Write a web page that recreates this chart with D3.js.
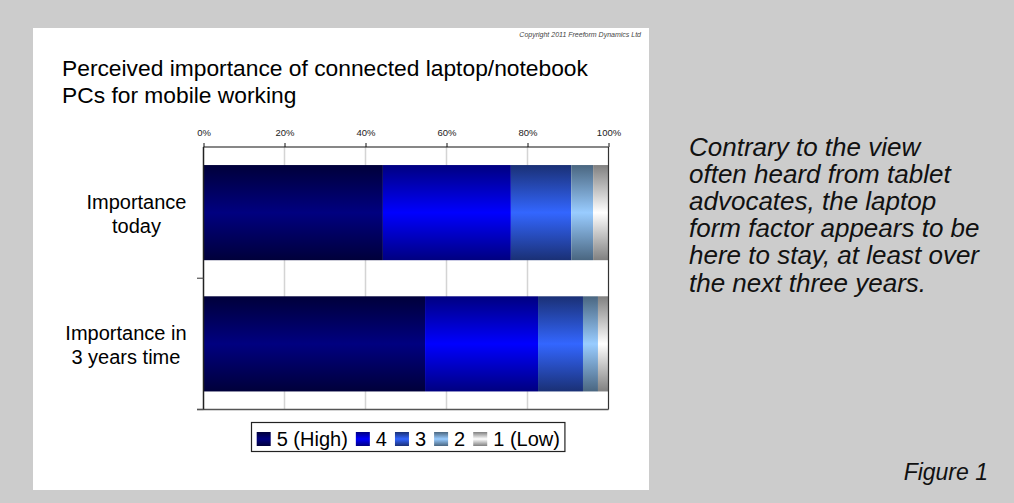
<!DOCTYPE html>
<html>
<head>
<meta charset="utf-8">
<script src="https://cdn.jsdelivr.net/npm/d3@7"></script>
<style>
  html, body { margin: 0; padding: 0; background: #cccccc; }
  svg { display: block; font-family: "Liberation Sans", Arial, sans-serif; }
</style>
</head>
<body>
<svg id="chart" width="1014" height="503"></svg>
<script>
// Survey categories, one row each
const categories = ["Importance today", "Importance in 3 years time"];
const categoryLines = [["Importance", "today"], ["Importance in", "3 years time"]];

// Rating levels, highest first (stack order left to right)
const ratings = ["5 (High)", "4", "3", "2", "1 (Low)"];

// Share of respondents (%) per rating, for each category
const rating5 = [44.3, 54.7];
const rating4 = [31.6, 27.9];
const rating3 = [14.9, 11.1];
const rating2 = [5.4, 3.7];
const rating1 = [3.8, 2.6];

const xTicks = [0, 20, 40, 60, 80, 100];

const commentary = [
  "Contrary to the view",
  "often heard from tablet",
  "advocates, the laptop",
  "form factor appears to be",
  "here to stay, at least over",
  "the next three years."
];

// Vertical shading per rating: [edge colour, centre colour]
const shades = [
  ["#00003a", "#000080"],
  ["#000080", "#0000ff"],
  ["#1a3075", "#3366ff"],
  ["#4a6680", "#99ccff"],
  ["#808080", "#ffffff"]
];

const seriesValues = [rating5, rating4, rating3, rating2, rating1];
const rows = categories.map((c, i) => {
  const r = { category: c };
  ratings.forEach((k, j) => { r[k] = seriesValues[j][i]; });
  return r;
});

const svg = d3.select("#chart");

// Gradients
const defs = svg.append("defs");
shades.forEach((s, i) => {
  const g = defs.append("linearGradient")
    .attr("id", "shade" + i)
    .attr("x1", 0).attr("y1", 0).attr("x2", 0).attr("y2", 1);
  g.append("stop").attr("offset", "0%").attr("stop-color", s[0]);
  g.append("stop").attr("offset", "50%").attr("stop-color", s[1]);
  g.append("stop").attr("offset", "100%").attr("stop-color", s[0]);
});

// White card holding the chart
svg.append("rect")
  .attr("x", 33).attr("y", 28)
  .attr("width", 616).attr("height", 462)
  .attr("fill", "#ffffff");

svg.append("text")
  .attr("x", 641).attr("y", 37)
  .attr("text-anchor", "end")
  .attr("font-size", 7)
  .attr("font-style", "italic")
  .attr("fill", "#444")
  .text("Copyright 2011 Freeform Dynamics Ltd");

const title = svg.append("text")
  .attr("x", 62).attr("y", 76)
  .attr("font-size", 22.8)
  .attr("fill", "#000");
title.append("tspan").attr("x", 62).attr("dy", 0).text("Perceived importance of connected laptop/notebook");
title.append("tspan").attr("x", 62).attr("dy", 27).text("PCs for mobile working");

// Plot area
const plot = { left: 203.5, right: 608.5, top: 147, bottom: 409.5 };

const x = d3.scaleLinear().domain([0, 100]).range([plot.left, plot.right]);
const y = d3.scaleBand()
  .domain(categories)
  .range([plot.top, plot.bottom])
  .paddingInner(0.275)
  .paddingOuter(0.1375);

// Gridlines
svg.append("g")
  .selectAll("line")
  .data(xTicks.filter(t => t > 0 && t < 100))
  .join("line")
  .attr("x1", d => x(d)).attr("x2", d => x(d))
  .attr("y1", plot.top).attr("y2", plot.bottom)
  .attr("stroke", "#d4d4d4")
  .attr("stroke-width", 1.5);

// Stacked bars
const stacked = d3.stack().keys(ratings)(rows);
svg.append("g")
  .selectAll("g")
  .data(stacked)
  .join("g")
  .attr("fill", (d, i) => `url(#shade${i})`)
  .selectAll("rect")
  .data(d => d)
  .join("rect")
  .attr("x", d => x(d[0]))
  .attr("width", d => x(d[1]) - x(d[0]))
  .attr("y", d => y(d.data.category))
  .attr("height", y.bandwidth());

// Right and bottom frame
svg.append("line")
  .attr("x1", plot.right).attr("x2", plot.right)
  .attr("y1", plot.top).attr("y2", plot.bottom)
  .attr("stroke", "#333").attr("stroke-width", 1.2);
svg.append("line")
  .attr("x1", plot.left - 6.5).attr("x2", plot.right)
  .attr("y1", plot.bottom).attr("y2", plot.bottom)
  .attr("stroke", "#555").attr("stroke-width", 1.5);

// Top percentage axis
const xAxis = d3.axisTop(x)
  .tickValues(xTicks)
  .tickFormat(d => d + "%")
  .tickSize(4)
  .tickPadding(7);
const gx = svg.append("g")
  .attr("transform", `translate(0,${plot.top})`)
  .call(xAxis);
gx.select(".domain").attr("stroke", "#111").attr("stroke-width", 1.2).attr("d", `M${plot.left},0H${plot.right}`);
gx.selectAll(".tick line").attr("stroke", "#111");
gx.selectAll(".tick text")
  .attr("font-size", 9.5)
  .attr("font-family", "Liberation Sans, Arial, sans-serif")
  .attr("fill", "#222");

// Left category axis: line plus tick marks at band boundaries
svg.append("line")
  .attr("x1", plot.left).attr("x2", plot.left)
  .attr("y1", plot.top).attr("y2", plot.bottom)
  .attr("stroke", "#222").attr("stroke-width", 1.5);
const step = y.step();
svg.append("g")
  .selectAll("line")
  .data(categories)
  .join("line")
  .attr("x1", plot.left - 6.5).attr("x2", plot.left)
  .attr("y1", d => y(d) - y.paddingOuter() * step + step)
  .attr("y2", d => y(d) - y.paddingOuter() * step + step)
  .attr("stroke", "#555").attr("stroke-width", 1.2);

// Category labels: lines centred within a right-aligned block
const labelSize = 20;
const labelRight = 186.5;
const labelG = svg.append("g").attr("font-size", labelSize).attr("fill", "#000");
categories.forEach((c, i) => {
  const cy = y(c) + y.bandwidth() / 2;
  const t = labelG.append("text");
  categoryLines[i].forEach((line, k) => {
    t.append("tspan").attr("y", cy - 4 + k * 24).text(line);
  });
  const widths = [];
  t.selectAll("tspan").each(function () { widths.push(this.getComputedTextLength()); });
  const w = d3.max(widths);
  t.selectAll("tspan")
    .attr("x", labelRight - w / 2)
    .attr("text-anchor", "middle");
});

// Legend
const legend = svg.append("g");
const legendBox = legend.append("rect")
  .attr("fill", "#fff")
  .attr("stroke", "#222")
  .attr("stroke-width", 1.2);
let lx = 256.7;
const ly = 432;
ratings.forEach((r, i) => {
  legend.append("rect")
    .attr("x", lx).attr("y", ly)
    .attr("width", 14).attr("height", 14)
    .attr("fill", `url(#shade${i})`);
  const t = legend.append("text")
    .attr("x", lx + 20).attr("y", ly + 13.5)
    .attr("font-size", 20)
    .text(r);
  lx += 20 + t.node().getComputedTextLength() + 8;
});
legendBox.attr("x", 251.5).attr("y", 422.5)
  .attr("width", lx - 251.5 - 3).attr("height", 29);

// Commentary beside the chart
const note = svg.append("text")
  .attr("font-size", 26)
  .attr("font-style", "italic")
  .attr("fill", "#111");
commentary.forEach((line, i) => {
  note.append("tspan").attr("x", 689).attr("y", 156 + i * 27.1).text(line);
});

svg.append("text")
  .attr("x", 988).attr("y", 480)
  .attr("text-anchor", "end")
  .attr("font-size", 23)
  .attr("font-style", "italic")
  .attr("fill", "#111")
  .text("Figure 1");
</script>
</body>
</html>
